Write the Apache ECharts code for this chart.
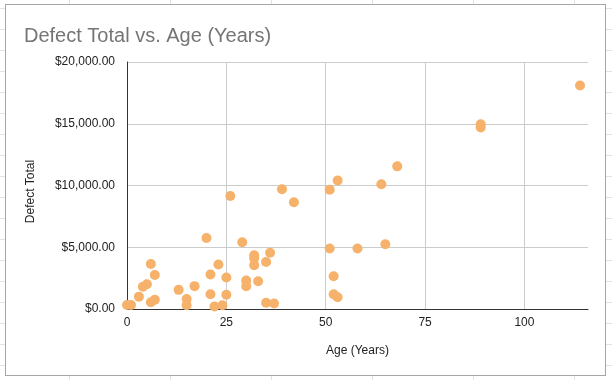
<!DOCTYPE html>
<html>
<head>
<meta charset="utf-8">
<script src="https://cdn.jsdelivr.net/npm/echarts@6/dist/echarts.min.js"></script>
<style>
  html, body { margin: 0; padding: 0; }
  body {
    width: 612px; height: 380px; position: relative; overflow: hidden;
    background-color: #fff;
    background-image: linear-gradient(to bottom, #e3e3e3 1px, transparent 1px),
                      linear-gradient(to right, #e3e3e3 1px, transparent 1px);
    background-size: 100% 21px, 101px 100%;
    background-position: 0 8px, 69px 0;
  }
  #card {
    position: absolute; left: 5px; top: 4px; width: 599px; height: 370px;
    border: 1.5px solid #a6a6a6; background: #fff;
  }
  #chart { position: absolute; left: 0; top: 0; width: 612px; height: 380px; }
</style>
</head>
<body>
<div id="card"></div>
<div id="chart"></div>
<script>
const titleText = 'Defect Total vs. Age (Years)';
const xName = 'Age (Years)';
const yName = 'Defect Total';
const ageYears = [0, 1, 3, 4, 5, 6, 7, 6, 7, 13, 15, 15, 17, 20, 21, 21, 23, 22, 24, 25, 25, 26, 29, 30, 30, 32, 32, 32, 33, 35, 36, 35, 37, 39, 42, 51, 53, 64, 68, 51, 58, 65, 52, 52, 53, 89, 89, 114];
const defectTotal = [320, 320, 1000, 1800, 2000, 3650, 2750, 550, 750, 1550, 800, 300, 1850, 5750, 2800, 1200, 3600, 200, 300, 2550, 1150, 9150, 5400, 2300, 1850, 4350, 4100, 3550, 2250, 3800, 4550, 500, 450, 9700, 8650, 9650, 10400, 10100, 11550, 4900, 4900, 5250, 2650, 1200, 950, 14950, 14700, 18100];

const points = ageYears.map((a, i) => [a, defectTotal[i]]);
const font = 'Liberation Sans, Arial, sans-serif';

const chart = echarts.init(document.getElementById('chart'));
chart.setOption({
  animation: false,
  title: {
    text: titleText, left: 19, top: 21,
    textStyle: { fontFamily: font, fontSize: 20, fontWeight: 'normal', color: '#757575' }
  },
  grid: { left: 127, right: 24, top: 62, bottom: 71 },
  xAxis: {
    type: 'value', min: 0, max: 116, interval: 25,
    name: xName, nameLocation: 'middle', nameGap: 36,
    nameTextStyle: { fontFamily: font, fontSize: 12, color: '#222' },
    axisLine: { show: true, lineStyle: { color: '#333', width: 1 } },
    axisTick: { show: false },
    axisLabel: { fontFamily: font, fontSize: 12, color: '#222', margin: 8, showMaxLabel: false },
    splitLine: { show: true, showMaxLine: false, lineStyle: { color: '#cccccc', width: 1 } }
  },
  yAxis: {
    type: 'value', min: 0, max: 20000, interval: 5000,
    name: yName, nameLocation: 'middle', nameGap: 90, nameRotate: 90,
    nameTextStyle: { fontFamily: font, fontSize: 12, color: '#222', padding: [0, 12, 0, 0] },
    axisLine: { show: true, lineStyle: { color: '#333', width: 1 } },
    axisTick: { show: false },
    axisLabel: {
      fontFamily: font, fontSize: 12, color: '#222', margin: 12,
      formatter: v => '$' + v.toLocaleString('en-US', { minimumFractionDigits: 2, maximumFractionDigits: 2 })
    },
    splitLine: { show: true, lineStyle: { color: '#cccccc', width: 1 } }
  },
  series: [{
    type: 'scatter',
    data: points,
    symbol: 'circle',
    symbolSize: 10,
    itemStyle: { color: '#f6b26b', opacity: 1 }
  }]
});
</script>
</body>
</html>
